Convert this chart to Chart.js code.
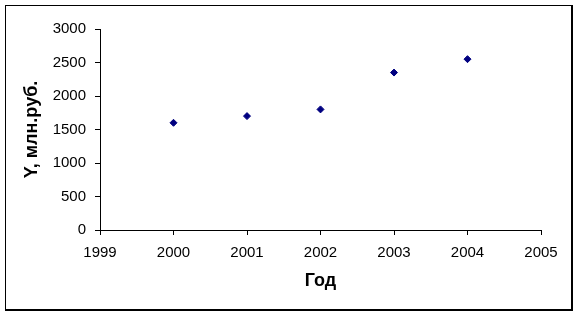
<!DOCTYPE html>
<html>
<head>
<meta charset="utf-8">
<script src="https://cdn.jsdelivr.net/npm/chart.js@4"></script>
<style>
  html, body { margin: 0; padding: 0; background: #fff; }
  #wrap { position: relative; width: 578px; height: 315px; }
  #frame {
    position: absolute; left: 5px; top: 5px; width: 565px; height: 303px;
    border-left: 1px solid #000; border-top: 1px solid #000;
    border-right: 2px solid #000; border-bottom: 2px solid #000;
    pointer-events: none;
  }
  canvas { position: absolute; left: 0; top: 0; }
</style>
</head>
<body>
<div id="wrap">
  <canvas id="chart" width="578" height="315"></canvas>
  <div id="frame"></div>
</div>
<script>
var years = [2000, 2001, 2002, 2003, 2004];
var values = [1600, 1700, 1800, 2350, 2550];
var xTicks = [1999, 2005, 1];   // min, max, step
var yTicks = [0, 3000, 500];

var font = "'Liberation Sans', Arial, sans-serif";

var points = years.map(function(y, i) {
    return { x: y, y: values[i] };
});

new Chart(document.getElementById('chart'), {
    type: 'scatter',
    data: {
        datasets: [{
            data: points,
            pointStyle: 'rectRot',
            pointRadius: 3.5,
            backgroundColor: '#000080',
            borderColor: '#000080',
            borderWidth: 1
        }]
    },
    options: {
        responsive: false,
        animation: false,
        layout: { padding: { top: 29, right: 37, bottom: 0, left: 0 } },
        plugins: { legend: { display: false }, tooltip: { enabled: false } },
        scales: {
            x: {
                type: 'linear',
                min: xTicks[0],
                max: xTicks[1],
                afterFit: function(scale) { scale.height = 85; },
                ticks: {
                    stepSize: xTicks[2],
                    color: '#000',
                    padding: 9,
                    font: { family: font, size: 15 },
                    callback: function(v) { return String(v); }
                },
                grid: {
                    drawOnChartArea: false,
                    drawTicks: true,
                    tickLength: 5,
                    color: '#000'
                },
                border: { display: true, color: '#000', width: 1 },
                title: {
                    display: true,
                    text: 'Год',
                    color: '#000',
                    font: { family: font, size: 18, weight: 'bold' },
                    padding: { top: 0, bottom: 23 }
                }
            },
            y: {
                min: yTicks[0],
                max: yTicks[1],
                afterFit: function(scale) { scale.width = 100; },
                ticks: {
                    stepSize: yTicks[2],
                    color: '#000',
                    padding: 9,
                    font: { family: font, size: 15 },
                    callback: function(v) { return String(v); }
                },
                grid: {
                    drawOnChartArea: false,
                    drawTicks: true,
                    tickLength: 5,
                    color: '#000'
                },
                border: { display: true, color: '#000', width: 1 },
                title: {
                    display: true,
                    text: 'Y, млн.руб.',
                    color: '#000',
                    font: { family: font, size: 18, weight: 'bold' },
                    padding: { top: 21, bottom: 0 }
                }
            }
        }
    }
});
</script>
</body>
</html>
